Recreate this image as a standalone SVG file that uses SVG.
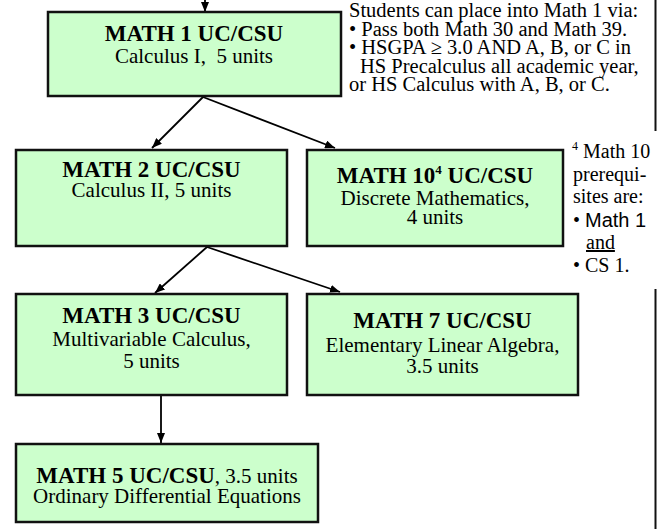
<svg xmlns="http://www.w3.org/2000/svg" width="662" height="529" viewBox="0 0 662 529">
<defs>
<marker id="ah" markerUnits="userSpaceOnUse" markerWidth="10" markerHeight="8" refX="10" refY="4" orient="auto">
<path d="M0,0 L10,4 L0,8 z" fill="#000"/>
</marker>
<style>
.box{fill:#CCFFCC;stroke:#111;stroke-width:2.5}
.t{font-family:"Liberation Serif","Times New Roman",serif;fill:#000}
.b{font-weight:bold;font-size:23px}
.r{font-size:21px}
.c{text-anchor:middle}
.n{font-size:20.5px}
.f{font-size:20px}
.cn{stroke:#000;stroke-width:1.8;fill:none;marker-end:url(#ah)}
</style>
</defs>
<rect width="662" height="529" fill="#fff"/>
<g id="connectors">
<line class="cn" x1="205" y1="0" x2="205" y2="12"/>
<line class="cn" x1="203" y1="97" x2="152" y2="148"/>
<line class="cn" x1="203" y1="97" x2="335" y2="148"/>
<line class="cn" x1="207" y1="247" x2="155" y2="293"/>
<line class="cn" x1="207" y1="247" x2="340" y2="292"/>
<line class="cn" x1="161" y1="396" x2="161" y2="443"/>
</g>
<g id="rightrule">
<line x1="655.5" y1="0" x2="655.5" y2="131" stroke="#111" stroke-width="2"/>
<line x1="655.5" y1="289" x2="655.5" y2="529" stroke="#111" stroke-width="2"/>
</g>
<g id="math1">
<rect class="box" x="48" y="12" width="293" height="84"/>
<text class="t b c" x="194" y="41">MATH 1 UC/CSU</text>
<text class="t r c" x="194" y="63">Calculus I,&#160; 5 units</text>
</g>
<g id="placement">
<text class="t n" x="349" y="17">Students can place into Math 1 via:</text>
<text class="t n" x="349" y="35.5">• Pass both Math 30 and Math 39.</text>
<text class="t n" x="349" y="54">• HSGPA ≥ 3.0 AND A, B, or C in</text>
<text class="t n" x="360" y="72.5">HS Precalculus all academic year,</text>
<text class="t n" x="349" y="91">or HS Calculus with A, B, or C.</text>
</g>
<g id="math2">
<rect class="box" x="16" y="150" width="271" height="96"/>
<text class="t b c" x="151.5" y="177">MATH 2 UC/CSU</text>
<text class="t r c" x="151.5" y="197">Calculus II, 5 units</text>
</g>
<g id="math10">
<rect class="box" x="307" y="150" width="256" height="96"/>
<text class="t b c" x="435" y="183">MATH 10<tspan font-size="13" dy="-9">4</tspan><tspan dy="9"> UC/CSU</tspan></text>
<text class="t r c" x="435" y="205">Discrete Mathematics,</text>
<text class="t r c" x="435" y="224">4 units</text>
</g>
<g id="footnote">
<text class="t f" x="572" y="158"><tspan font-size="12" dy="-8">4</tspan><tspan dy="8"> Math 10</tspan></text>
<text class="t f" x="573" y="181">prerequi-</text>
<text class="t f" x="573" y="203">sites are:</text>
<text class="t f" x="573" y="227">• <tspan font-family="Liberation Sans, Arial, sans-serif">Math 1</tspan></text>
<text class="t f" x="586" y="249" text-decoration="underline">and</text>
<text class="t f" x="573" y="272">• CS 1.</text>
</g>
<g id="math3">
<rect class="box" x="16" y="294" width="271" height="101"/>
<text class="t b c" x="151.5" y="323">MATH 3 UC/CSU</text>
<text class="t r c" x="151.5" y="346">Multivariable Calculus,</text>
<text class="t r c" x="151.5" y="368">5 units</text>
</g>
<g id="math7">
<rect class="box" x="307" y="294" width="271" height="101"/>
<text class="t b c" x="442.5" y="328">MATH 7 UC/CSU</text>
<text class="t r c" x="442.5" y="352">Elementary Linear Algebra,</text>
<text class="t r c" x="442.5" y="373">3.5 units</text>
</g>
<g id="math5">
<rect class="box" x="16" y="444" width="302" height="78"/>
<text class="t c" x="167" y="483"><tspan class="b">MATH 5 UC/CSU</tspan><tspan class="r">, 3.5 units</tspan></text>
<text class="t r c" x="167" y="503">Ordinary Differential Equations</text>
</g>
</svg>
